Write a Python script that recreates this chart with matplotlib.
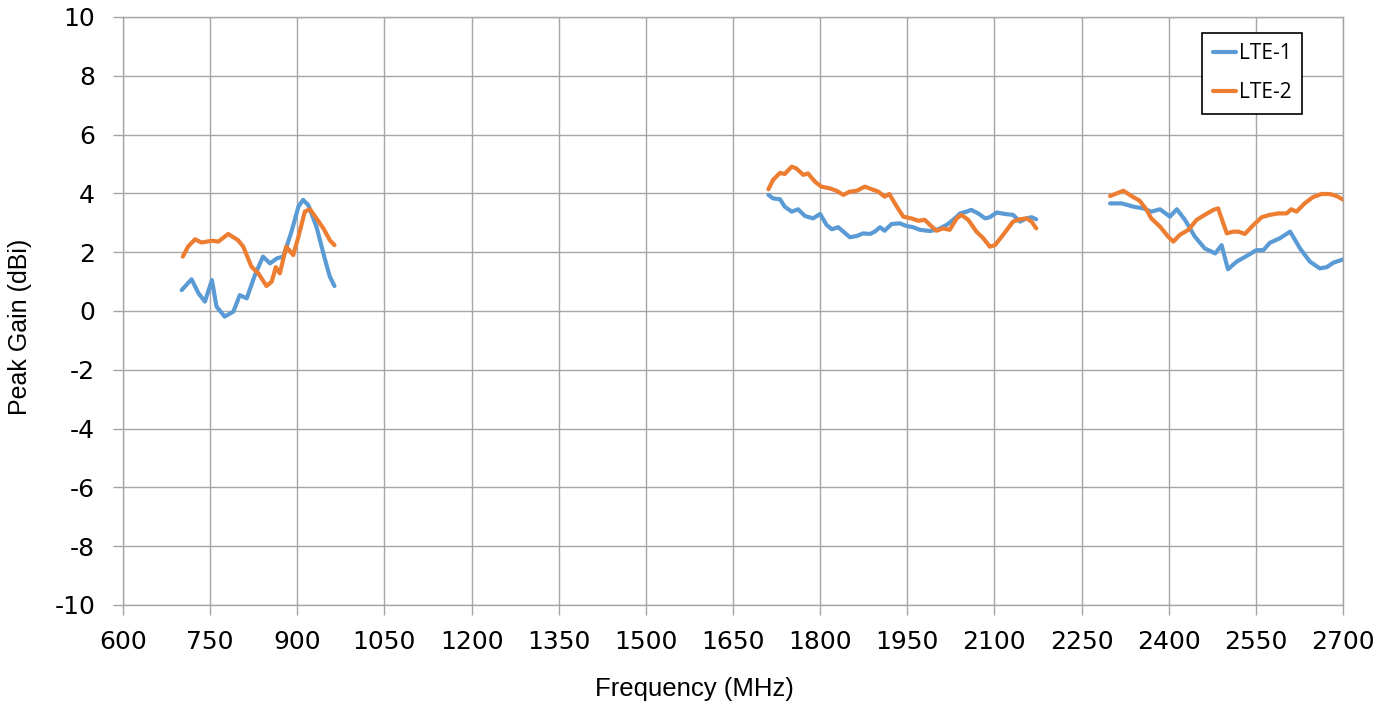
import numpy as np
import matplotlib.pyplot as plt

plt.rcParams['axes.unicode_minus'] = False

# LTE-1 (blue), three measured bands
lte1_f1 = [701, 718, 730, 741, 753, 761, 775, 790, 801, 813, 827, 841, 853, 865, 876, 890, 902, 910, 919, 933, 948, 956, 964]
lte1_g1 = [0.71, 1.08, 0.6, 0.32, 1.05, 0.15, -0.19, -0.02, 0.54, 0.43, 1.22, 1.85, 1.62, 1.79, 1.85, 2.7, 3.55, 3.78, 3.6, 2.87, 1.73, 1.17, 0.85]
lte1_f2 = [1711, 1719, 1731, 1739, 1751, 1762, 1774, 1788, 1800, 1811, 1820, 1831, 1840, 1851, 1863, 1874, 1886, 1894, 1903, 1911, 1923, 1937, 1949, 1960, 1972, 1989, 2003, 2018, 2029, 2041, 2052, 2060, 2072, 2084, 2092, 2104, 2118, 2132, 2144, 2155, 2164, 2172]
lte1_g2 = [3.95, 3.83, 3.8, 3.55, 3.38, 3.46, 3.23, 3.15, 3.3, 2.93, 2.78, 2.85, 2.7, 2.51, 2.55, 2.64, 2.62, 2.7, 2.85, 2.73, 2.96, 2.98, 2.89, 2.85, 2.76, 2.72, 2.78, 2.93, 3.1, 3.32, 3.38, 3.44, 3.32, 3.15, 3.19, 3.35, 3.3, 3.27, 3.04, 3.15, 3.19, 3.12]
lte1_f3 = [2299, 2319, 2339, 2356, 2370, 2385, 2402, 2414, 2428, 2445, 2462, 2480, 2491, 2502, 2517, 2534, 2551, 2563, 2574, 2591, 2609, 2626, 2643, 2660, 2672, 2683, 2701]
lte1_g3 = [3.66, 3.66, 3.55, 3.49, 3.38, 3.46, 3.21, 3.46, 3.1, 2.53, 2.13, 1.96, 2.24, 1.42, 1.68, 1.87, 2.07, 2.07, 2.32, 2.47, 2.7, 2.13, 1.68, 1.45, 1.49, 1.64, 1.76]

# LTE-2 (orange)
lte2_f1 = [703, 712, 724, 735, 753, 764, 781, 798, 807, 821, 833, 847, 856, 863, 870, 881, 893, 902, 913, 922, 933, 945, 956, 964]
lte2_g1 = [1.85, 2.19, 2.44, 2.33, 2.39, 2.36, 2.62, 2.41, 2.19, 1.51, 1.28, 0.85, 1.0, 1.49, 1.28, 2.19, 1.9, 2.53, 3.38, 3.46, 3.15, 2.81, 2.41, 2.24]
lte2_f2 = [1711, 1719, 1731, 1739, 1751, 1759, 1771, 1779, 1791, 1802, 1817, 1828, 1840, 1851, 1863, 1877, 1889, 1900, 1911, 1919, 1932, 1943, 1957, 1969, 1980, 1989, 2000, 2012, 2023, 2035, 2043, 2055, 2069, 2081, 2092, 2101, 2115, 2132, 2144, 2155, 2164, 2172]
lte2_g2 = [4.14, 4.46, 4.7, 4.66, 4.91, 4.85, 4.63, 4.68, 4.4, 4.23, 4.17, 4.09, 3.95, 4.06, 4.09, 4.23, 4.14, 4.06, 3.89, 3.98, 3.55, 3.21, 3.15, 3.07, 3.1, 2.93, 2.73, 2.81, 2.76, 3.15, 3.27, 3.1, 2.7, 2.47, 2.19, 2.24, 2.59, 3.04, 3.12, 3.15, 3.04, 2.81]
lte2_f3 = [2299, 2322, 2336, 2350, 2362, 2370, 2385, 2399, 2408, 2419, 2434, 2448, 2462, 2477, 2485, 2500, 2511, 2520, 2531, 2546, 2560, 2574, 2589, 2603, 2611, 2620, 2634, 2648, 2663, 2677, 2689, 2701]
lte2_g3 = [3.91, 4.09, 3.91, 3.75, 3.44, 3.15, 2.87, 2.53, 2.36, 2.59, 2.76, 3.1, 3.27, 3.44, 3.49, 2.64, 2.7, 2.7, 2.62, 2.93, 3.19, 3.27, 3.32, 3.32, 3.46, 3.38, 3.66, 3.87, 3.98, 3.98, 3.91, 3.78]

blue = '#5B9BD5'
orange = '#ED7D31'

fig = plt.figure(figsize=(13.97, 7.09), dpi=100)
ax = fig.add_axes([123/1397, 1 - 605/709, 1220/1397, 588/709])

for i, (f, g) in enumerate([(lte1_f1, lte1_g1), (lte1_f2, lte1_g2), (lte1_f3, lte1_g3)]):
    ax.plot(f, g, color=blue, lw=3, solid_capstyle='round', solid_joinstyle='round',
            label='LTE-1' if i == 0 else None, zorder=3)
for i, (f, g) in enumerate([(lte2_f1, lte2_g1), (lte2_f2, lte2_g2), (lte2_f3, lte2_g3)]):
    ax.plot(f, g, color=orange, lw=3, solid_capstyle='round', solid_joinstyle='round',
            label='LTE-2' if i == 0 else None, zorder=3)

ax.set_xlim(600, 2700)
ax.set_ylim(-10, 10)
ax.set_xticks(np.arange(600, 2701, 150))
ax.set_yticks(np.arange(-10, 11, 2))
ax.grid(True, color='#A6A6A6', lw=1)
for s in ax.spines.values():
    s.set_color('#A6A6A6')
    s.set_linewidth(1)
ax.tick_params(direction='out', length=7, width=1, color='#A6A6A6', labelsize=18)
ax.tick_params(axis='x', pad=11)
ax.tick_params(axis='y', pad=13)

ax.set_xlabel('Frequency (MHz)', fontsize=18.5, family='Liberation Sans')
ax.xaxis.set_label_coords((694 - 123) / 1220, -(689 - 605) / 588)
ax.xaxis.label.set_va('center')
ax.set_ylabel('Peak Gain (dBi)', fontsize=18, family='Liberation Sans')
ax.yaxis.set_label_coords((20 - 123) / 1220, (605 - 327) / 588)
ax.yaxis.label.set_va('center')

leg = ax.legend(loc='upper right', bbox_to_anchor=(1302/1397, 1 - 33/709), bbox_transform=fig.transFigure,
                fancybox=False, framealpha=1, edgecolor='black', handlelength=1.1, handletextpad=0.15,
                borderpad=0.5, labelspacing=0.85, borderaxespad=0, prop={'family': 'Open Sans', 'size': 15})
leg.get_frame().set_linewidth(1.2)

plt.savefig('out.png', dpi=100)
